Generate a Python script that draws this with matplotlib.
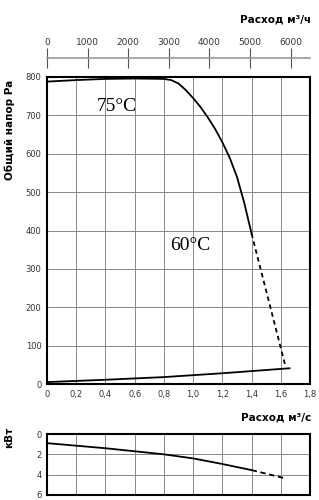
import matplotlib.pyplot as plt
import numpy as np

# fan curve, pressure Pa vs flow m3/s
q_fan = [0, 0.2, 0.4, 0.6, 0.8, 0.85, 0.9, 0.95, 1.0, 1.05, 1.1, 1.15, 1.2, 1.25, 1.3, 1.35, 1.4]
p_fan = [788, 792, 795, 796, 795, 792, 783, 766, 745, 722, 695, 665, 630, 590, 540, 472, 392]
q_dash = [1.4, 1.63]
p_dash = [392, 49]
# system curve
q_sys = [0, 0.4, 0.8, 1.2, 1.66]
p_sys = [5, 11, 18, 28, 41]

# power kW
q_pow = [0, 0.2, 0.4, 0.6, 0.8, 1.0, 1.2, 1.4]
kw_pow = [0.9, 1.15, 1.4, 1.7, 2.0, 2.4, 2.95, 3.55]
q_pow_d = [1.4, 1.64]
kw_pow_d = [3.55, 4.4]

x_ticks = [0, 0.2, 0.4, 0.6, 0.8, 1.0, 1.2, 1.4, 1.6, 1.8]
x_labels = ['0', '0,2', '0,4', '0,6', '0,8', '1,0', '1,2', '1,4', '1,6', '1,8']
y_ticks = [0, 100, 200, 300, 400, 500, 600, 700, 800]
m3h_ticks = [0, 1000, 2000, 3000, 4000, 5000, 6000]
kw_ticks = [0, 2, 4, 6]

tick_color = '#333333'
grid_color = '#888888'

fig = plt.figure(figsize=(3.19, 5.0), dpi=100)

# main pressure chart
ax = fig.add_axes([0.1473, 0.232, 0.8245, 0.614])
ax.plot(q_fan, p_fan, color='black', lw=1.3)
ax.plot(q_dash, p_dash, color='black', lw=1.3, ls=(0, (2.5, 2)))
ax.plot(q_sys, p_sys, color='black', lw=1.3)
ax.set_xlim(0, 1.8)
ax.set_ylim(0, 800)
ax.set_xticks(x_ticks)
ax.set_xticklabels(x_labels)
ax.set_yticks(y_ticks)
ax.grid(True, color=grid_color, lw=0.7)
ax.tick_params(length=0, labelsize=6, colors=tick_color, pad=4)
for s in ax.spines.values():
    s.set_linewidth(1.5)
ax.text(0.34, 712, '75°C', family='Liberation Serif', fontsize=14)
ax.text(0.84, 350, '60°C', family='Liberation Serif', fontsize=14)
fig.text(0.03, 0.74, 'Общий напор Pa', rotation=90, fontsize=7.5,
         fontweight='bold', ha='center', va='center')

# top m3/h scale
axt = fig.add_axes([0.1473, 0.884, 0.8245, 0.0001])
axt.set_xlim(0, 1.8 * 3600)
axt.set_ylim(0, 1)
for k in ['left', 'right', 'bottom']:
    axt.spines[k].set_visible(False)
axt.spines['top'].set_color('#999999')
axt.spines['top'].set_linewidth(1.2)
axt.xaxis.tick_top()
axt.set_xticks(m3h_ticks)
axt.set_yticks([])
axt.tick_params(axis='x', direction='inout', length=14, width=0.8,
                color='#555555', labelsize=6.5, labelcolor=tick_color, pad=1)
fig.text(0.975, 0.962, 'Расход м³/ч', fontsize=7.5, fontweight='bold',
         ha='right', va='center')

# power chart
axp = fig.add_axes([0.1473, 0.01, 0.8245, 0.122])
axp.plot(q_pow, kw_pow, color='black', lw=1.3)
axp.plot(q_pow_d, kw_pow_d, color='black', lw=1.3, ls=(0, (3, 2)))
axp.set_xlim(0, 1.8)
axp.set_ylim(6, 0)
axp.set_xticks(x_ticks)
axp.set_xticklabels([])
axp.set_yticks(kw_ticks)
axp.grid(True, color=grid_color, lw=0.7)
axp.tick_params(length=0, labelsize=6, colors=tick_color, pad=4)
for s in axp.spines.values():
    s.set_linewidth(1.5)
fig.text(0.975, 0.165, 'Расход м³/с', fontsize=7.5, fontweight='bold',
         ha='right', va='center')
fig.text(0.03, 0.125, 'кВт', rotation=90, fontsize=7.5,
         fontweight='bold', ha='center', va='center')

fig.savefig('out.png', dpi=100)
